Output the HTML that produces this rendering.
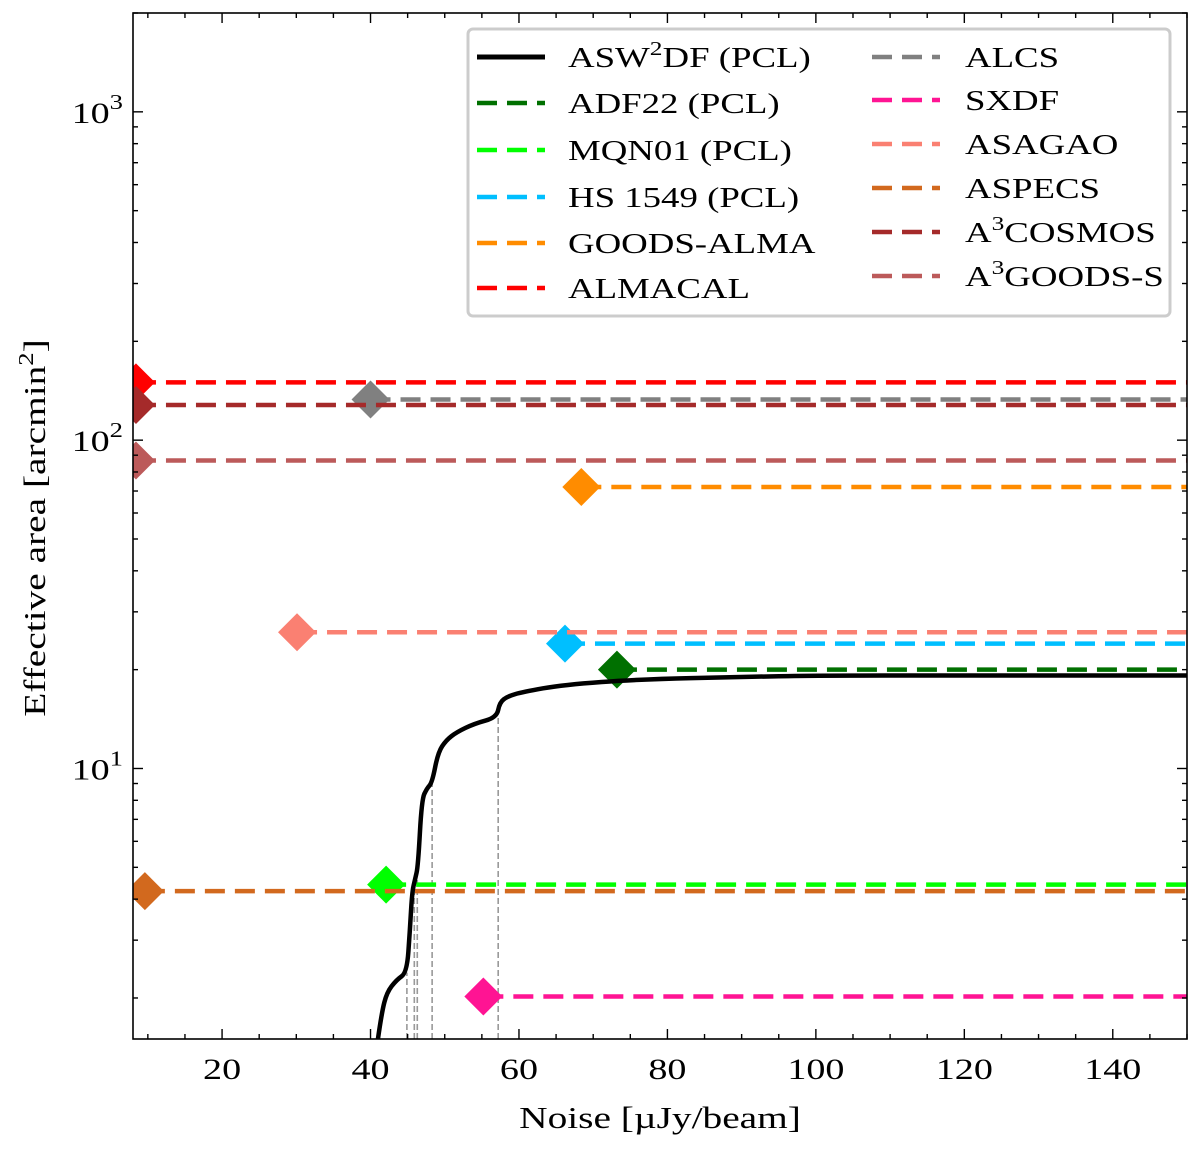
<!DOCTYPE html>
<html><head><meta charset="utf-8"><style>
body{margin:0;background:#fff}
svg text{font-family:"Liberation Serif",serif;fill:#000}
</style></head><body>
<svg id="c" width="1200" height="1152" xmlns="http://www.w3.org/2000/svg"></svg>
<script>
const xDomain=[8,150], yDomain=[1.5,2000];
const xTicks=[20,40,60,80,100,120,140];
const yTicks=[10,100,1000];
const surveyNames=["ADF22 (PCL)","MQN01 (PCL)","HS 1549 (PCL)","GOODS-ALMA","ALMACAL","ALCS","SXDF","ASAGAO","ASPECS","A3COSMOS","A3GOODS-S"];
const surveyNoise=[73.2,42.1,66.2,68.4,8.4,40.0,55.2,30.1,9.6,8.4,8.4];
const surveyArea=[20,4.43,24,72,150,133,2.02,26,4.23,128,86.7];
const surveyColors=["#007000","#00ff00","#00bfff","#ff8c00","#ff0000","#808080","#ff1493","#fa8072","#d2691e","#a52a2a","#bc5a5a"];
const curveNoise=[41.0,41.5,42.2,43.5,44.9,45.3,45.6,46.0,46.4,46.9,47.6,48.3,49.1,50.2,51.6,54,57.0,57.4,58.5,60.5,66,76.3,90,100,120,150];
const curveArea=[1.5,1.8,2.08,2.27,2.39,3.2,4.2,4.6,5.03,8.05,8.7,9.06,11.2,12.2,12.9,13.7,14.3,15.9,16.6,17.1,18.0,18.7,19.0,19.2,19.2,19.2];
const vlineNoise=[44.9,45.9,46.3,48.3,57.2];
const vlineArea=[2.39,4.4,4.6,9.06,14.3];

const L=133,R=1187,T=13,B=1039;
const X=v=>L+(v-xDomain[0])/(xDomain[1]-xDomain[0])*(R-L);
const ly=[Math.log10(yDomain[0]),Math.log10(yDomain[1])];
const Y=v=>B-(Math.log10(v)-ly[0])/(ly[1]-ly[0])*(B-T);
const svg=document.getElementById('c');const NS='http://www.w3.org/2000/svg';
function el(t,a,p){const e=document.createElementNS(NS,t);for(const k in a)e.setAttribute(k,a[k]);(p||svg).appendChild(e);return e;}
function txt(x,y,html,size,anchor,parent,rot){const gg=el('g',{transform:`translate(${x},${y})`+(rot?' rotate(-90)':'')+' scale(1.27,1)'},parent);
const t=el('text',{x:0,y:0,'font-size':size,'text-anchor':anchor||'start'},gg);t.innerHTML=html;return t;}
const defs=el('defs',{});const cp=el('clipPath',{id:'clip'},defs);el('rect',{x:L,y:T,width:R-L,height:B-T},cp);
const g=el('g',{'clip-path':'url(#clip)'});


vlineNoise.forEach((n,i)=>{const l=el('line',{x1:X(n),x2:X(n),y1:B,y2:Y(vlineArea[i]),stroke:'#999','stroke-width':1.6,'stroke-dasharray':'6,3'},g);

});
surveyNames.forEach((n,i)=>{const x=X(surveyNoise[i]),y=Y(surveyArea[i]);
const l=el('line',{x1:x,x2:R,y1:y,y2:y,stroke:surveyColors[i],'stroke-width':4.5,'stroke-dasharray':'20,10'},g);


const d=el('polygon',{points:`${x},${y-19} ${x+19},${y} ${x},${y+19} ${x-19},${y}`,fill:surveyColors[i]},g);

});
// smoothed curve through midpoints
const P=curveNoise.map((n,i)=>[X(n),Y(curveArea[i])]);
let dstr=`M${P[0][0]},${P[0][1]}`;
for(let i=1;i<P.length-1;i++){const mx=(P[i][0]+P[i+1][0])/2,my=(P[i][1]+P[i+1][1])/2;dstr+=` Q${P[i][0]},${P[i][1]} ${mx},${my}`;}
dstr+=` L${P[P.length-1][0]},${P[P.length-1][1]}`;
const c=el('path',{d:dstr,fill:'none',stroke:'#000','stroke-width':4.5,'stroke-linejoin':'round'},g);


const f=el('rect',{x:L,y:T,width:R-L,height:B-T,fill:'none',stroke:'#000','stroke-width':1.6});


for(let v=10;v<=150;v+=5){const major=xTicks.includes(v);const len=major?10:5;const x=X(v);
el('line',{x1:x,x2:x,y1:B,y2:B-len,stroke:'#000','stroke-width':1.4});el('line',{x1:x,x2:x,y1:T,y2:T+len,stroke:'#000','stroke-width':1.4});
if(major){const t=txt(x,B+40,String(v),30,'middle');

}}
for(let e=0;e<4;e++)for(let m=1;m<10;m++){const v=m*Math.pow(10,e);if(v<yDomain[0]||v>yDomain[1])continue;const y=Y(v);const len=m==1?10:5;
el('line',{x1:L,x2:L+len,y1:y,y2:y,stroke:'#000','stroke-width':1.4});el('line',{x1:R,x2:R-len,y1:y,y2:y,stroke:'#000','stroke-width':1.4});}
yTicks.forEach(v=>{const t=txt(L-10,Y(v)+11,'10<tspan dy="-14" font-size="21">'+Math.round(Math.log10(v))+'</tspan>',30,'end');

});
const xl=txt(660,1128,'Noise [µJy/beam]',31,'middle');


const yl=txt(45,528,'Effective area [arcmin<tspan dy="-12" font-size="21">2</tspan><tspan dy="12">]</tspan>',31,'middle',null,true);


const lg=el('g',{});


el('rect',{x:468,y:29,width:702,height:287,rx:5,fill:'#fff','fill-opacity':0.9,stroke:'#ccc','stroke-width':3},lg);
const legLeft=[["ASW<tspan dy='-12' font-size='20'>2</tspan><tspan dy='12'>DF (PCL)</tspan>",'#000',true],[surveyNames[0],surveyColors[0]],[surveyNames[1],surveyColors[1]],[surveyNames[2],surveyColors[2]],[surveyNames[3],surveyColors[3]],[surveyNames[4],surveyColors[4]]];
const legRight=[[surveyNames[5],surveyColors[5]],[surveyNames[6],surveyColors[6]],[surveyNames[7],surveyColors[7]],[surveyNames[8],surveyColors[8]],["A<tspan dy='-12' font-size='20'>3</tspan><tspan dy='12'>COSMOS</tspan>",surveyColors[9]],["A<tspan dy='-12' font-size='20'>3</tspan><tspan dy='12'>GOODS-S</tspan>",surveyColors[10]]];
function entry(x0,tx,y,lab,col,solid){const e=el('g',{},lg);


el('line',{x1:x0,x2:x0+68,y1:y,y2:y,stroke:col,'stroke-width':solid?5:4.5,'stroke-dasharray':solid?'none':'20,10'},e);
txt(tx,y+10,lab,29,'start',e);}
const ly1=[57,103,150,197,243,288],ly2=[57,100,144,188,232,276];
legLeft.forEach((a,i)=>entry(477,568,ly1[i],a[0],a[1],a[2]));
legRight.forEach((a,i)=>entry(872,965,ly2[i],a[0],a[1]));
</script>
</body></html>
